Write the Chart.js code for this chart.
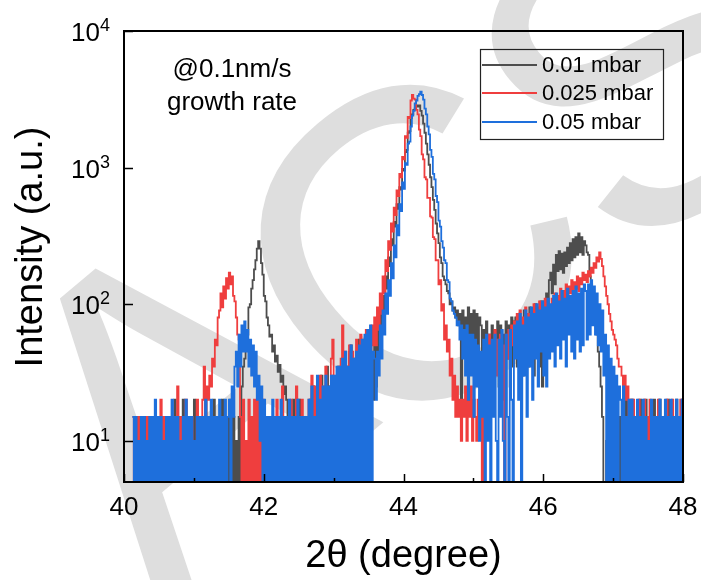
<!DOCTYPE html>
<html>
<head>
<meta charset="utf-8">
<script src="https://cdn.jsdelivr.net/npm/chart.js@4.4.1/dist/chart.umd.min.js"></script>
<style>
  html, body { margin: 0; padding: 0; background: #fff; }
  #wrap { width: 701px; height: 580px; }
</style>
</head>
<body>
<div id="wrap"><canvas id="xrdChart" width="701" height="580"></canvas></div>
<script>
// scan grid: 40.10 .. 48.00 deg, 0.02 deg step
const xStart = 40.1;
const xStep = 0.02;

const seriesLabels = ['0.01 mbar', '0.025 mbar', '0.05 mbar'];
const xTicks = [40, 42, 44, 46, 48];
const xMinorTicks = [41, 43, 45, 47];
const yTickExps = [1, 2, 3, 4];
const noteLines = ['@0.1nm/s', 'growth rate'];

// intensities, one row per 0.5 deg (0 = no counts)
const black001 = [
  null,null,null,15,0,15,0,10,0,15,0,15,0,10,0,15,0,15,0,10,0,15,0,15,0,
  15,0,10,0,15,0,20,0,15,0,10,0,20,0,15,0,10,0,15,0,20,0,15,0,10,
  0,15,0,20,0,15,0,10,0,20,0,15,0,10,0,20,0,15,0,15,0,20,0,15,0,
  10,0,15,0,25,35,40,55,60,95,100,130,150,180,210,255,290,255,200,165,115,105,80,70,58,
  60,45,50,38,42,32,36,27,30,22,25,20,15,0,15,0,20,0,15,0,20,0,10,0,15,
  0,15,0,20,0,25,0,15,0,20,0,30,0,20,0,35,0,25,0,30,0,20,0,35,0,
  30,15,40,25,0,35,45,50,20,40,0,45,30,55,35,0,45,30,50,25,0,55,40,20,50,
  25,65,45,85,65,115,90,160,130,220,190,300,270,400,370,540,500,720,690,980,950,1300,1350,1800,1850,
  2300,2450,2650,2700,2850,2800,2850,2600,2400,2100,1800,1500,1250,1050,850,720,580,490,390,330,280,220,200,160,150,
  140,125,120,100,105,90,95,80,90,70,85,20,90,55,80,50,95,45,85,40,90,35,85,30,80,
  70,30,65,25,75,35,60,20,70,30,65,40,75,25,70,35,60,30,75,40,70,25,80,35,75,
  80,35,85,40,75,30,90,45,85,35,95,40,90,30,100,45,95,35,105,25,105,60,120,80,150,
  170,120,195,140,230,175,245,180,235,170,240,190,260,200,280,210,300,220,310,230,330,240,310,230,290,
  270,240,230,160,140,110,95,80,60,45,35,25,15,5,0,10,0,15,0,10,0,20,0,15,0,
  15,0,10,0,20,0,15,0,20,0,15,0,10,0,20,0,15,0,20,0,10,0,15,0,20,
  0,15,0,20,0,15,0,10,0,20,0,15,0,10,0,20,0,15,0,20,0
];

const red0025 = [
  null,15,0,10,0,15,0,15,0,10,0,15,0,15,0,10,0,15,0,15,0,20,0,15,0,
  15,0,10,0,15,0,15,0,25,0,15,0,10,0,20,0,15,0,15,0,10,0,20,0,15,
  10,20,35,15,25,20,30,25,40,35,55,50,80,90,120,95,135,110,155,130,170,140,160,115,105,
  80,60,55,15,0,20,0,10,0,20,0,15,0,20,0,20,0,10,0,20,0,15,0,15,0,
  15,0,10,0,20,0,15,0,25,0,10,0,15,0,20,0,15,0,25,0,10,0,20,0,10,
  15,0,20,0,30,0,25,0,15,0,30,0,25,0,35,0,15,0,40,55,0,25,30,0,35,
  40,70,25,45,20,35,50,25,45,30,0,55,35,0,60,40,55,30,65,0,60,45,70,50,80,
  50,95,65,120,85,160,120,210,175,290,250,390,340,510,450,680,620,900,850,1200,1150,1700,1650,2350,2300,
  3100,3400,3200,3150,2650,2450,1900,1700,1250,1150,850,820,600,600,440,430,310,300,210,210,140,150,90,100,55,
  70,45,55,30,40,20,30,15,25,15,20,10,20,15,25,10,20,15,25,10,20,15,10,20,15,
  30,0,45,20,55,35,60,25,50,40,65,30,55,45,60,20,50,0,60,40,65,45,70,50,75,
  60,85,55,90,65,80,50,95,60,85,70,90,55,100,75,90,60,105,80,95,70,110,85,100,75,
  90,110,80,120,95,115,100,130,90,125,110,140,105,135,120,150,110,145,130,160,125,155,140,170,150,
  165,145,175,160,185,170,200,185,220,205,240,215,190,160,135,115,100,85,75,65,60,55,50,40,35,
  35,30,25,30,20,25,15,20,0,20,0,15,0,20,0,15,0,20,0,15,0,20,0,15,0,
  15,0,20,0,15,0,10,0,20,0,15,0,20,0,15,0,10,0,20,0,15
];

const blue005 = [
  null,15,0,15,0,10,0,15,0,15,0,10,0,15,0,15,0,20,0,15,0,15,0,10,0,
  15,0,15,0,20,0,15,0,15,0,10,0,15,0,20,0,15,0,15,0,10,0,15,0,15,
  0,15,0,20,0,15,0,20,0,15,0,15,0,20,0,15,0,20,0,15,20,0,25,15,35,
  45,25,60,35,70,45,75,45,65,35,55,30,50,25,45,20,30,10,25,0,20,0,15,0,15,
  0,20,0,15,0,15,0,20,0,15,0,15,0,20,0,15,0,15,0,20,0,15,0,15,0,
  15,0,20,0,25,0,15,0,30,0,20,0,25,0,30,0,25,0,30,0,30,0,35,0,35,
  0,40,0,45,0,35,0,50,0,40,0,45,0,50,0,55,0,60,0,65,0,70,0,45,40,
  20,45,30,70,40,90,60,120,85,150,115,200,155,270,220,380,320,540,480,780,700,1080,1050,1500,1550,
  2000,2400,2600,2950,3100,3350,3450,3600,3400,3150,2700,2450,2000,1750,1350,1200,900,820,620,560,410,370,290,260,210,
  200,150,145,110,105,90,85,80,70,75,55,70,40,65,30,70,20,60,30,60,15,55,25,50,10,
  45,15,55,0,60,10,50,0,55,15,60,10,0,55,15,65,10,0,60,15,0,65,20,0,70,
  40,75,20,85,0,70,30,90,15,80,35,95,20,85,40,100,25,90,45,105,30,95,25,110,40,
  100,45,115,35,120,50,105,40,125,55,110,35,130,60,115,45,125,40,135,55,120,45,130,50,140,
  125,55,140,60,150,70,135,60,120,50,100,45,90,30,60,0,50,0,40,0,35,0,30,0,25,
  20,0,25,0,15,0,20,0,20,0,15,0,20,0,15,0,20,0,15,0,10,0,20,0,15,
  0,15,0,20,0,15,0,20,0,15,0,20,0,15,0,20,0,15,0,20,15
];

const seriesColors = ['#4d4d4d', '#ef3e3e', '#1e6fdc'];
const FONT = 'Arial, "Liberation Sans", sans-serif';

const scanX = black001.map((_, i) => +(xStart + i * xStep).toFixed(2));
const toPoints = vals => vals.map((v, i) => ({ x: scanX[i], y: v }));

const decorPlugin = {
    id: 'decorPlugin',
    beforeDraw: function (chart) {
        const c = chart.ctx;
        c.save();
        c.fillStyle = '#ffffff';
        c.fillRect(0, 0, chart.width, chart.height);
        // faint "ACS" watermark under everything
        c.fillStyle = 'rgb(222,222,222)';
        c.font = '440px ' + FONT;
        c.textAlign = 'center';
        c.textBaseline = 'alphabetic';
        const marks = [['A', 170, 395], ['C', 405, 245], ['S', 640, 60]];
        marks.forEach(m => {
            c.save();
            c.translate(m[1], m[2]);
            c.rotate(-40 * Math.PI / 180);
            c.fillText(m[0], 0, 158);
            c.restore();
        });
        c.restore();
    },
    afterDatasetsDraw: function (chart) {
        const c = chart.ctx;
        const area = chart.chartArea;
        const xs = chart.scales.x;
        const ys = chart.scales.y;
        c.save();

        // frame
        c.strokeStyle = '#000';
        c.lineWidth = 2;
        c.strokeRect(area.left, area.top, area.right - area.left, area.bottom - area.top);

        // ticks (inward)
        c.lineWidth = 1.5;
        c.beginPath();
        xTicks.forEach(t => {
            const px = Math.round(xs.getPixelForValue(t)) + 0.5;
            c.moveTo(px, area.bottom);
            c.lineTo(px, area.bottom - 8);
        });
        xMinorTicks.forEach(t => {
            const px = Math.round(xs.getPixelForValue(t)) + 0.5;
            c.moveTo(px, area.bottom);
            c.lineTo(px, area.bottom - 4);
        });
        yTickExps.forEach(e => {
            const py = Math.round(ys.getPixelForValue(Math.pow(10, e))) + 0.5;
            c.moveTo(area.left, py);
            c.lineTo(area.left + 9, py);
        });
        c.stroke();

        // tick labels
        c.fillStyle = '#000';
        c.font = '26px ' + FONT;
        c.textAlign = 'center';
        c.textBaseline = 'alphabetic';
        xTicks.forEach(t => c.fillText(String(t), xs.getPixelForValue(t), 515));
        yTickExps.forEach(e => {
            const py = ys.getPixelForValue(Math.pow(10, e));
            c.font = '26px ' + FONT;
            c.textAlign = 'right';
            c.fillText('10', 100, py + 10);
            c.font = '18px ' + FONT;
            c.textAlign = 'left';
            c.fillText(String(e), 100, py);
        });

        // axis titles
        c.font = '38px ' + FONT;
        c.textAlign = 'center';
        c.fillText('2\u03b8 (degree)', (area.left + area.right) / 2, 567);
        c.save();
        c.translate(42, 247);
        c.rotate(-Math.PI / 2);
        c.fillText('Intensity (a.u.)', 0, 0);
        c.restore();

        // note
        c.font = '26px ' + FONT;
        c.fillText(noteLines[0], 232, 77);
        c.fillText(noteLines[1], 232, 110);

        // legend box
        c.lineWidth = 1.2;
        c.strokeStyle = '#222';
        c.strokeRect(480.5, 49.5, 183, 90);
        const rows = [65, 93, 122];
        chart.data.datasets.forEach((ds, i) => {
            c.strokeStyle = ds.borderColor;
            c.lineWidth = 2.2;
            c.beginPath();
            c.moveTo(482, rows[i]);
            c.lineTo(537, rows[i]);
            c.stroke();
            c.fillStyle = '#000';
            c.font = '22px ' + FONT;
            c.textAlign = 'left';
            c.textBaseline = 'middle';
            c.fillText(ds.label, 542, rows[i] + 1);
        });
        c.restore();
    }
};

const ctx = document.getElementById('xrdChart').getContext('2d');
const seriesData = [black001, red0025, blue005];

new Chart(ctx, {
    type: 'line',
    data: {
        datasets: seriesData.map((vals, i) => ({
            label: seriesLabels[i],
            data: toPoints(vals),
            borderColor: seriesColors[i],
            backgroundColor: seriesColors[i],
            borderWidth: 1.8,
            pointRadius: 0,
            stepped: true,
            spanGaps: false,
            clip: 1,
            order: 2 - i
        }))
    },
    options: {
        responsive: false,
        animation: false,
        devicePixelRatio: 1,
        parsing: false,
        events: [],
        layout: { padding: { left: 124, right: 18, top: 31, bottom: 98 } },
        plugins: {
            legend: { display: false },
            tooltip: { enabled: false }
        },
        scales: {
            x: { type: 'linear', min: 40, max: 48, display: false },
            y: { type: 'logarithmic', min: 5, max: 10000, display: false }
        }
    },
    plugins: [decorPlugin]
});
</script>
</body>
</html>
